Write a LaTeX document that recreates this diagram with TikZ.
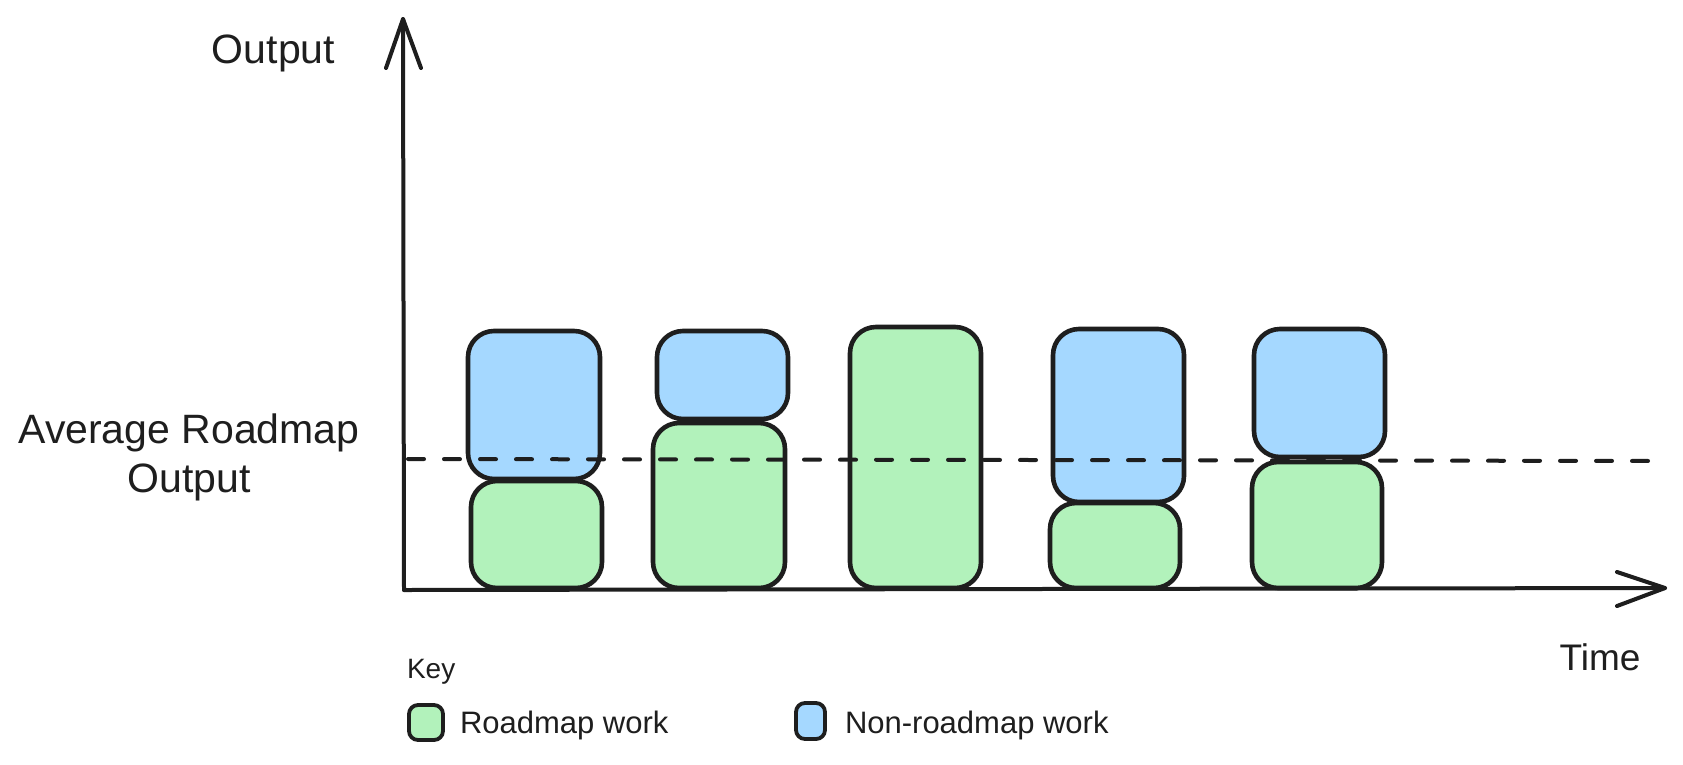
\documentclass[tikz,border=0pt]{standalone}
\usepackage{fontspec}
\setmainfont{Liberation Sans}
\definecolor{inkc}{HTML}{1E1E1E}
\definecolor{greenc}{HTML}{B2F2BB}
\definecolor{bluec}{HTML}{A5D8FF}
\begin{document}
\begin{tikzpicture}[x=1pt,y=-1pt,
  ink/.style={draw=inkc, line width=4pt, line cap=round, line join=round},
  bar/.style={ink, line width=4.6pt, rounded corners=26pt, inner sep=0pt, outer sep=0pt, rectangle},
  greenbar/.style={bar, fill=greenc},
  bluebar/.style={bar, fill=bluec},
  swatch/.style={ink, line width=3.8pt, rounded corners=9pt, inner sep=0pt, rectangle},
  lbl/.style={text=inkc, inner sep=0pt, outer sep=0pt},
  big/.style={lbl, font=\fontsize{41}{48}\selectfont},
  small/.style={lbl, font=\fontsize{31}{36}\selectfont},
]
\useasboundingbox[fill=white] (0,0) rectangle (1683,764);

% bars
\node[bluebar,  minimum width=132pt, minimum height=148pt] (b1) at (534,405) {};
\node[greenbar, minimum width=131pt, minimum height=107pt] (g1) at (536.5,534.5) {};
\node[bluebar,  minimum width=131pt, minimum height=88pt]  (b2) at (722.5,375) {};
\node[greenbar, minimum width=132pt, minimum height=165pt] (g2) at (719,505.5) {};
\node[greenbar, minimum width=131pt, minimum height=261pt] (g3) at (915.5,457.5) {};
\node[bluebar,  minimum width=131pt, minimum height=173pt] (b4) at (1118.5,415.5) {};
\node[greenbar, minimum width=130pt, minimum height=85pt]  (g4) at (1115,545.5) {};
\node[bluebar,  minimum width=131pt, minimum height=128pt] (b5) at (1319.5,393) {};
\node[greenbar, minimum width=130pt, minimum height=126pt] (g5) at (1317,525) {};

% average line
\coordinate (d1) at (408,459);
\coordinate (d2) at (1662,461);
\draw[ink, dash pattern=on 16pt off 20pt] (d1) -- (d2);

% axes
\coordinate (O) at (404,590);
\coordinate (ytip) at (403,19);
\coordinate (ya1) at (386,68);
\coordinate (ya2) at (421,68);
\coordinate (xtip) at (1665,588);
\coordinate (xa1) at (1617,572);
\coordinate (xa2) at (1617,606);
\draw[ink] (O) -- (ytip);
\draw[ink] (ya1) -- (ytip) -- (ya2);
\draw[ink] (O) -- (xtip);
\draw[ink] (xa1) -- (xtip) -- (xa2);

% labels
\node[big, anchor=base] (ylab) at (273.5,63) {Output};
\node[big, anchor=base] (avg1) at (189,443) {Average Roadmap};
\node[big, anchor=base] (avg2) at (189,492) {Output};
\node[lbl, font=\fontsize{37}{44}\selectfont, anchor=base] (xlab) at (1600,670) {Time};

% key
\node[lbl, font=\fontsize{28}{34}\selectfont, anchor=base west] (key) at (407,678) {Key};
\node[swatch, fill=greenc, minimum width=34pt, minimum height=35pt] (sg) at (426,722.5) {};
\node[small, anchor=base west] (lg) at (460,733) {Roadmap work};
\node[swatch, fill=bluec, minimum width=29pt, minimum height=36pt] (sb) at (810.5,721) {};
\node[small, anchor=base west] (lb) at (845,733) {Non-roadmap work};
\end{tikzpicture}
\end{document}
